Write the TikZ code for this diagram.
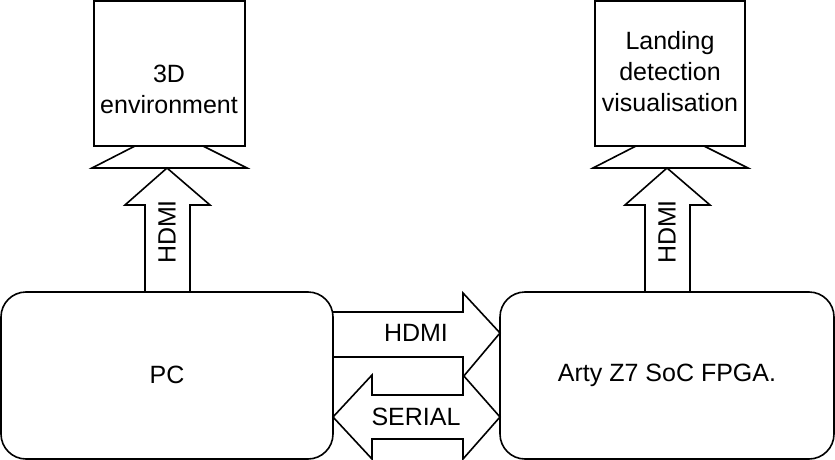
\documentclass[tikz,border=0pt]{standalone}
\usepackage{fontspec}
\setmainfont{Liberation Sans}
\begin{document}
\begin{tikzpicture}[x=1pt,y=-1pt,line width=1.6pt,
  lbl/.style={font=\fontsize{25}{31}\selectfont,align=center}]
\useasboundingbox (0,0) rectangle (835,460);
% boxes
\draw[rounded corners=25] (1,292) rectangle (333,459);
\node[lbl] (pc) at (167,375) {PC};
\draw[rounded corners=25] (500,292) rectangle (834,459);
\node[lbl] (fpga) at (667,375) {Arty Z7 SoC FPGA.};
% monitors
\draw (94,1) rectangle (245,146);
\node[lbl] (env) at (169,89) {3D\\environment};
\draw (135,146) -- (92,168) -- (247,168) -- (203,146);
\draw (595,1) rectangle (745,146);
\node[lbl] (land) at (670,72) {Landing\\detection\\visualisation};
\draw (636,146) -- (593,168) -- (748,168) -- (704,146);
% up arrows
\draw (145,292) -- (145,205) -- (125,205) -- (167,168) -- (210,205) -- (190,205) -- (190,292);
\node[lbl,rotate=90] (h1) at (167,232) {HDMI};
\draw (645,292) -- (645,205) -- (625,205) -- (667,168) -- (710,205) -- (690,205) -- (690,292);
\node[lbl,rotate=90] (h2) at (667,232) {HDMI};
% HDMI right arrow
\draw (333,312) -- (463,312) -- (463,293) -- (500,333) -- (463,377) -- (463,357) -- (333,357);
\node[lbl] (h3) at (416,333) {HDMI};
% serial
\draw (333,417) -- (372,375) -- (372,395) -- (463,395) -- (463,375) -- (500,417) -- (463,459) -- (463,439) -- (372,439) -- (372,459) -- cycle;
\node[lbl] (ser) at (416,417) {SERIAL};
\end{tikzpicture}
\end{document}
